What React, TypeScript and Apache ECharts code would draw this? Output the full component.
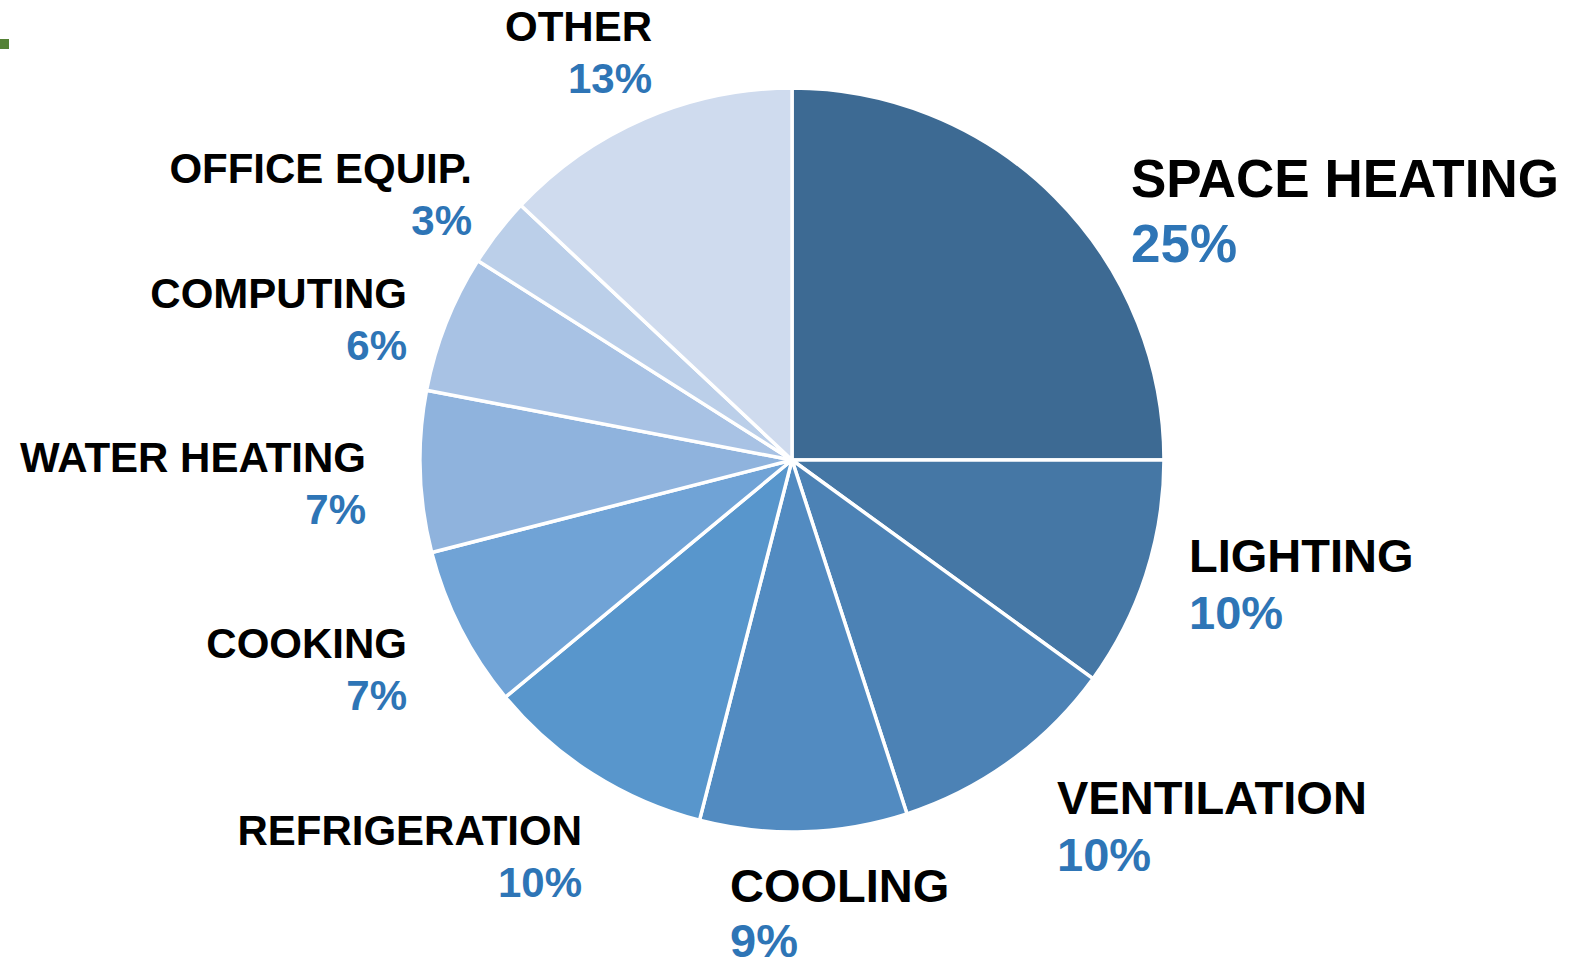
import React, { useEffect, useRef } from "react";
import * as echarts from "echarts";

// ---- data ----
const categories = [
  "SPACE HEATING",
  "LIGHTING",
  "VENTILATION",
  "COOLING",
  "REFRIGERATION",
  "COOKING",
  "WATER HEATING",
  "COMPUTING",
  "OFFICE EQUIP.",
  "OTHER",
];
const shares = [25, 10, 10, 9, 10, 7, 7, 6, 3, 13];

// ---- styles ----
const sliceColors = [
  "#3D6A93",
  "#4577A5",
  "#4C82B5",
  "#528BC1",
  "#5896CC",
  "#70A3D6",
  "#8FB3DD",
  "#A8C2E4",
  "#BBCFE9",
  "#CFDBEE",
];
// label layout: [x, centerY, align, sizeClass]
const labelLayoutSpec: [number, number, string, string][] = [
  [1131, 211, "left", "L"],
  [1189, 584, "left", "M"],
  [1057, 826, "left", "M"],
  [730, 912, "left", "C"],
  [582, 856, "right", "S"],
  [407, 669, "right", "S"],
  [366, 483, "right", "S"],
  [407, 319, "right", "S"],
  [472, 194, "right", "S"],
  [652, 52, "right", "S"],
];
const FONT = "'Liberation Sans', Arial, Helvetica, sans-serif";
// [fontSize, name lineHeight, percent lineHeight]
const sizes: Record<string, [number, number, number]> = {
  L: [53, 65, 65],
  M: [47, 57, 57],
  C: [47, 56, 54],
  S: [42, 52, 52],
};

export default function App() {
  const ref = useRef<HTMLDivElement>(null);
  useEffect(() => {
    document.body.style.margin = "0";
    if (!ref.current) return;
    const chart = echarts.init(ref.current, undefined, { renderer: "svg" });
    const rich: Record<string, any> = {};
    Object.keys(sizes).forEach((k) => {
      const [fs, lhN, lhP] = sizes[k];
      rich["n" + k] = {
        fontFamily: FONT,
        fontWeight: "bold",
        fontSize: fs,
        lineHeight: lhN,
        color: "#000000",
      };
      rich["p" + k] = {
        fontFamily: FONT,
        fontWeight: "bold",
        fontSize: fs,
        lineHeight: lhP,
        color: "#2E75B6",
      };
    });
    chart.setOption({
      animation: false,
      backgroundColor: "#ffffff",
      graphic: [
        {
          type: "rect",
          shape: { x: 0, y: 39, width: 9, height: 10 },
          style: { fill: "#548235" },
        },
      ],
      series: [
        {
          type: "pie",
          center: [792, 460],
          radius: 372,
          startAngle: 90,
          clockwise: true,
          avoidLabelOverlap: false,
          itemStyle: { borderColor: "#ffffff", borderWidth: 3.5 },
          emphasis: { disabled: true },
          label: {
            show: true,
            position: "outside",
            formatter: (p: any) => {
              const k = labelLayoutSpec[p.dataIndex][3];
              return `{n${k}|${p.name}}\n{p${k}|${p.value}%}`;
            },
            rich,
          },
          labelLine: { show: false },
          labelLayout: (params: any) => {
            const s = labelLayoutSpec[params.dataIndex];
            return {
              x: s[0],
              y: s[1],
              align: s[2],
              verticalAlign: "middle",
            };
          },
          data: categories.map((name, i) => ({
            name,
            value: shares[i],
            itemStyle: { color: sliceColors[i] },
          })),
        },
      ],
    });
    return () => chart.dispose();
  }, []);
  return <div ref={ref} style={{ width: 1593, height: 970 }} />;
}
